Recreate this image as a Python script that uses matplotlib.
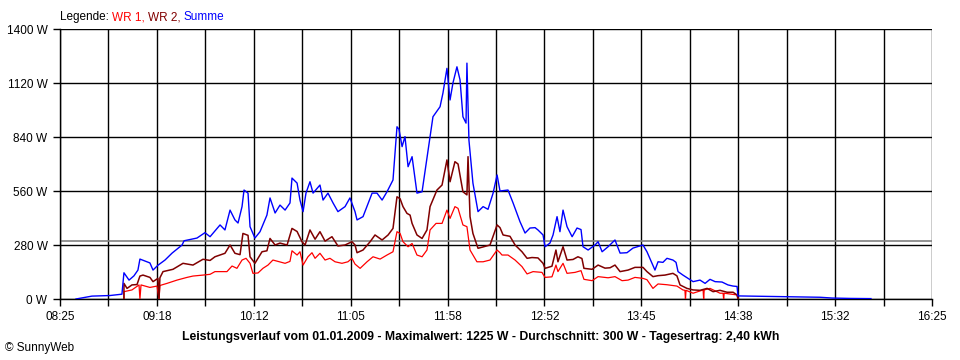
import matplotlib
matplotlib.use('Agg')
import matplotlib.pyplot as plt

# Zeitpunkte in Minuten seit Mitternacht, Leistung in W
t_wr1 = [540.2, 540.2, 544.6, 548.5, 549.0, 549.6, 554.5, 558.4, 559.5, 560.0,
         563.9, 569.4, 574.9, 578.2, 583.7, 587.6, 590.3, 596.9, 599.7, 602.4,
         605.2, 607.4, 609.6, 611.2, 614.0, 616.7, 619.5, 622.2, 625.0, 628.9,
         631.6, 632.7, 635.5, 637.1, 638.8, 641.5, 643.7, 645.4, 648.1, 650.9,
         653.6, 656.4, 660.2, 663.5, 665.7, 667.4, 670.2, 674.0, 677.3, 681.2,
         685.0, 688.3, 690.5, 692.2, 693.8, 696.6, 698.8, 701.5, 704.3, 707.0,
         708.7, 712.0, 715.3, 718.0, 719.7, 722.4, 724.1, 726.8, 729.0, 730.7,
         734.5, 737.9, 741.7, 745.6, 747.2, 748.3, 751.6, 755.5, 759.3, 762.1,
         765.4, 770.3, 772.0, 775.8, 778.0, 779.1, 781.9, 784.1, 788.5, 791.8,
         793.4, 797.9, 801.2, 806.7, 810.5, 814.4, 817.7, 821.5, 825.9, 828.1,
         831.4, 834.2, 839.1, 844.6, 847.9, 849.0, 849.3, 849.6, 853.5, 859.0,
         859.3, 859.6, 862.8, 868.3, 870.0, 870.3, 870.6, 873.8, 877.7, 878.2]
p_wr1 = [0, 38, 47, 73, 0, 73, 60, 67, 0, 70,
         81, 98, 112, 119, 124, 128, 142, 142, 171, 159,
         202, 211, 185, 133, 135, 159, 176, 202, 195, 185,
         195, 250, 228, 245, 176, 219, 240, 211, 237, 202,
         211, 193, 185, 193, 211, 181, 159, 193, 219, 207,
         228, 245, 349, 340, 297, 271, 288, 228, 219, 254,
         358, 392, 392, 461, 418, 479, 470, 384, 375, 254,
         193, 193, 202, 254, 240, 228, 228, 202, 168, 130,
         142, 138, 112, 115, 176, 142, 185, 133, 138, 147,
         102, 95, 116, 110, 116, 95, 98, 112, 107, 100,
         55, 78, 74, 67, 47, 45, 0, 45, 30, 47,
         0, 47, 55, 30, 30, 0, 30, 26, 21, 0]

t_wr2 = [540.2, 540.2, 541.9, 544.6, 547.4, 549.0, 550.7, 554.5, 556.2, 558.9,
         559.5, 560.0, 561.7, 567.2, 572.7, 578.2, 583.7, 587.6, 590.3, 595.8,
         598.6, 601.3, 604.1, 605.7, 608.5, 609.6, 612.3, 616.2, 618.9, 620.6,
         623.4, 626.1, 630.0, 632.7, 635.5, 638.2, 639.9, 642.6, 645.4, 648.1,
         650.9, 654.7, 658.0, 661.9, 665.7, 667.4, 668.5, 671.8, 675.7, 678.4,
         682.3, 685.6, 688.3, 690.5, 692.2, 693.8, 696.0, 697.7, 698.8, 701.5,
         704.3, 707.0, 708.7, 712.5, 715.3, 718.0, 719.7, 722.4, 724.1, 726.8,
         729.0, 729.6, 730.7, 732.3, 735.1, 737.9, 741.7, 745.6, 747.2, 748.9,
         752.7, 755.5, 759.3, 762.1, 764.8, 768.1, 770.9, 772.0, 775.8, 778.0,
         779.1, 781.9, 784.1, 787.4, 790.1, 792.3, 793.4, 797.9, 801.2, 805.0,
         807.8, 810.5, 813.3, 817.7, 821.5, 825.9, 828.1, 831.4, 834.2, 838.0,
         842.4, 844.6, 846.3, 850.1, 853.5, 857.3, 861.2, 864.5, 868.3, 872.2,
         875.5, 877.7, 878.2]
p_wr2 = [0, 81, 55, 73, 75, 119, 124, 112, 90, 107,
         0, 110, 142, 154, 185, 176, 206, 200, 219, 237,
         280, 237, 230, 340, 330, 219, 185, 245, 250, 314,
         280, 290, 280, 366, 350, 297, 280, 358, 310, 349,
         300, 323, 275, 280, 297, 280, 240, 254, 297, 332,
         306, 332, 366, 530, 520, 479, 444, 435, 392, 332,
         314, 358, 479, 565, 591, 721, 608, 712, 700, 556,
         540, 738, 427, 340, 263, 270, 280, 384, 370, 332,
         325, 280, 245, 211, 215, 213, 185, 159, 170, 254,
         193, 271, 202, 205, 219, 210, 159, 154, 176, 160,
         162, 176, 142, 150, 164, 164, 142, 116, 121, 124,
         133, 120, 73, 55, 47, 45, 55, 38, 45, 35,
         35, 21, 0]

t_summe = [513.8, 522.6, 532.5, 539.1, 540.2, 543.0, 545.7, 547.9, 549.0, 554.5,
           556.2, 558.9, 562.8, 566.7, 572.2, 573.3, 580.4, 584.8, 587.6, 593.1,
           595.8, 598.6, 601.3, 603.0, 605.2, 606.3, 608.5, 609.6, 612.3, 615.1,
           618.9, 620.6, 623.4, 626.1, 628.9, 631.6, 632.7, 635.5, 637.1, 638.8,
           640.4, 642.6, 644.3, 648.1, 649.8, 652.5, 655.3, 658.0, 661.9, 664.6,
           667.4, 668.5, 671.8, 676.8, 679.5, 682.3, 685.0, 688.3, 690.5, 691.6,
           693.3, 694.9, 696.6, 698.8, 701.5, 704.3, 708.7, 710.3, 714.2, 715.8,
           718.0, 719.7, 721.3, 723.5, 725.2, 726.8, 728.5, 729.0, 730.1, 732.3,
           735.1, 737.9, 740.6, 743.4, 745.6, 747.2, 751.6, 754.4, 758.2, 761.0,
           763.7, 766.5, 768.1, 770.9, 772.0, 774.7, 776.4, 778.6, 780.2, 781.9,
           784.1, 786.9, 789.6, 791.8, 792.9, 795.7, 799.5, 801.2, 803.4, 806.7,
           810.5, 813.3, 817.1, 820.4, 824.3, 825.9, 828.1, 830.9, 832.5, 834.2,
           836.9, 839.1, 842.4, 844.1, 845.2, 847.9, 850.7, 853.5, 857.3, 860.1,
           862.8, 865.6, 869.4, 872.7, 875.5, 877.7, 878.2, 890.4, 904.1, 912.4,
           923.4, 930.0, 939.9, 951.4]
p_summe = [0, 15, 18, 25, 136, 98, 120, 150, 207, 187,
           150, 175, 202, 238, 280, 302, 316, 344, 323, 384,
           358, 461, 410, 394, 479, 565, 549, 375, 316, 349,
           435, 524, 446, 487, 461, 498, 627, 601, 513, 453,
           549, 608, 549, 591, 513, 549, 498, 453, 479, 524,
           453, 410, 427, 549, 549, 513, 556, 617, 893, 880,
           790, 842, 686, 738, 549, 556, 842, 945, 997, 1068,
           1196, 1032, 1120, 1204, 1136, 945, 912, 1223, 824, 601,
           453, 479, 465, 549, 643, 560, 565, 498, 401, 342,
           368, 370, 358, 332, 271, 290, 332, 427, 349, 461,
           375, 323, 368, 360, 271, 254, 280, 297, 245, 271,
           306, 238, 240, 264, 275, 280, 245, 185, 150, 193,
           190, 211, 202, 190, 142, 124, 107, 90, 98, 81,
           102, 90, 88, 73, 67, 65, 16, 14, 12, 10,
           9, 5, 3, 2]

durchschnitt = 300
x_ticks = [505 + i * 160 / 3 for i in range(10)]
x_labels = ['08:25', '09:18', '10:12', '11:05', '11:58', '12:52',
            '13:45', '14:38', '15:32', '16:25']
y_ticks = [0, 280, 560, 840, 1120, 1400]
y_labels = ['0 W', '280 W', '560 W', '840 W', '1120 W', '1400 W']

plt.rcParams['font.family'] = ['Liberation Sans', 'DejaVu Sans']

fig = plt.figure(figsize=(9.6, 3.6), dpi=100)
ax = fig.add_axes([60 / 960, 1 - 299 / 360, 872 / 960, 270 / 360])

# Gitter
for i in range(19):
    ax.axvline(505 + i * 80 / 3, color='black', linewidth=1.0, zorder=1)
for y in y_ticks:
    ax.axhline(y, color='black', linewidth=1.0, zorder=1)
ax.axhline(durchschnitt, color='#808080', linewidth=1.2, zorder=1.5)

ax.plot(t_wr1, p_wr1, color='#ff0000', linewidth=0.9, zorder=3)
ax.plot(t_wr2, p_wr2, color='#800000', linewidth=1.1, zorder=3)
ax.plot(t_summe, p_summe, color='#0000ff', linewidth=1.0, zorder=4)

ax.set_xlim(505, 985)
ax.set_ylim(0, 1400)
ax.set_xticks(x_ticks)
ax.set_xticklabels(x_labels, fontsize=8.5)
ax.set_xticks([505 + (2 * i + 1) * 80 / 3 for i in range(9)], minor=True)
ax.set_yticks(y_ticks)
ax.set_yticklabels(y_labels, fontsize=8.5)
ax.tick_params(axis='both', which='both', length=5, width=1, direction='out', pad=4)
for s in ['top', 'right']:
    ax.spines[s].set_visible(False)
ax.spines['left'].set_linewidth(1.0)
ax.spines['bottom'].set_linewidth(1.0)

# Legende oben links
t0 = fig.text(60 / 960, 1 - 17 / 360, 'Legende: ', fontsize=8.5, color='black', va='center', ha='left')
t1 = ax.annotate('WR 1, ', xy=(1, 0), xycoords=t0, va='bottom', ha='left', fontsize=8.5, color='#ff0000')
t2 = ax.annotate('WR 2, ', xy=(1, 0), xycoords=t1, va='bottom', ha='left', fontsize=8.5, color='#800000')
ax.annotate('Summe', xy=(1, 0), xycoords=t2, va='bottom', ha='left', fontsize=8.5, color='#0000ff')

fig.text(481 / 960, 1 - 337 / 360,
         'Leistungsverlauf vom 01.01.2009 - Maximalwert: 1225 W - Durchschnitt: 300 W - Tagesertrag: 2,40 kWh',
         fontsize=8.8, fontweight='bold', ha='center', va='center')
fig.text(5 / 960, 1 - 348 / 360, '© SunnyWeb', fontsize=8.5, ha='left', va='center')

fig.savefig('out.png', dpi=100)
